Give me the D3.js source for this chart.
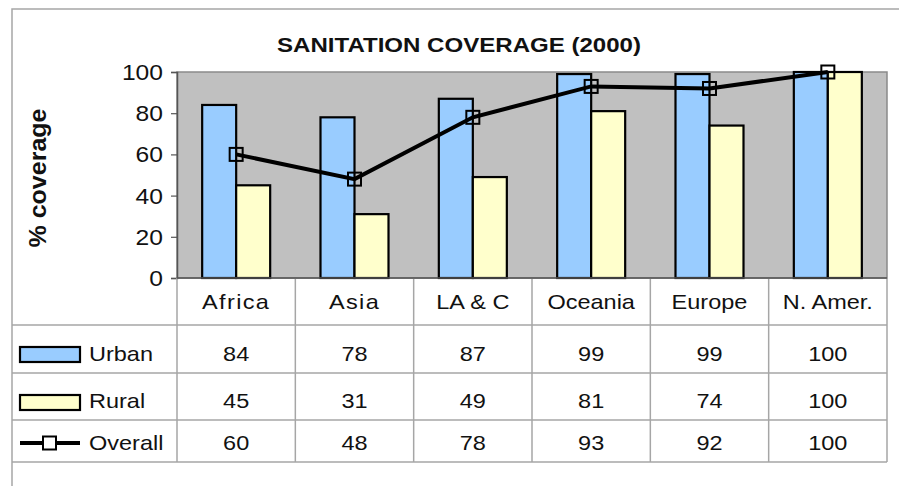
<!DOCTYPE html>
<html>
<head>
<meta charset="utf-8">
<script src="https://cdn.jsdelivr.net/npm/d3@7"></script>
<style>
  html, body { margin: 0; padding: 0; background: #fff; }
  svg { display: block; }
  text { font-family: "Liberation Sans", Arial, sans-serif; fill: #111; }
</style>
</head>
<body>
<div id="chart"></div>
<script>
// values
var categories = ["Africa", "Asia", "LA & C", "Oceania", "Europe", "N. Amer."];
var seriesNames = ["Urban", "Rural", "Overall"];
var urban = [84, 78, 87, 99, 99, 100];
var rural = [45, 31, 49, 81, 74, 100];
var overall = [60, 48, 78, 93, 92, 100];
var yTicks = [0, 20, 40, 60, 80, 100];

var W = 899, H = 486;
var plot = { left: 177, right: 887, top: 72, bottom: 278 };
var rowBottoms = [325, 373, 420, 462];
var frameX = 12, frameY = 9;
var sx = 1.12; // text in the picture is a bit wider than Arial

var colors = { urban: "#99ccff", rural: "#ffffcc", bg: "#c0c0c0", grid: "#a6a6a6" };

var svg = d3.select("#chart").append("svg")
    .attr("width", W)
    .attr("height", H);

function label(x, y, s, anchor, size, weight) {
    return svg.append("text")
        .attr("transform", "translate(" + x + "," + y + ") scale(" + sx + ",1)")
        .attr("text-anchor", anchor || "middle")
        .attr("font-size", size || 21)
        .attr("font-weight", weight || "normal")
        .text(s);
}

var x = d3.scaleBand()
    .domain(categories)
    .range([plot.left, plot.right]);

var xInner = d3.scaleBand()
    .domain(["Urban", "Rural"])
    .range([0, x.bandwidth()])
    .paddingOuter(0.74);

var y = d3.scaleLinear()
    .domain([0, 100])
    .range([plot.bottom, plot.top]);

// outer frame
svg.append("path")
    .attr("d", "M" + frameX + "," + H + "V" + frameY + "H" + W)
    .attr("fill", "none")
    .attr("stroke", colors.grid)
    .attr("stroke-width", 1.5);

// title
svg.append("text")
    .attr("x", 459)
    .attr("y", 52)
    .attr("text-anchor", "middle")
    .attr("font-size", 21)
    .attr("font-weight", "bold")
    .attr("textLength", 364)
    .attr("lengthAdjust", "spacingAndGlyphs")
    .text("SANITATION COVERAGE (2000)");

// y axis title
svg.append("text")
    .attr("transform", "translate(46,178) rotate(-90)")
    .attr("text-anchor", "middle")
    .attr("font-size", 23)
    .attr("font-weight", "bold")
    .attr("textLength", 139)
    .attr("lengthAdjust", "spacingAndGlyphs")
    .text("% coverage");

// plot area
svg.append("rect")
    .attr("x", plot.left)
    .attr("y", plot.top)
    .attr("width", plot.right - plot.left)
    .attr("height", plot.bottom - plot.top)
    .attr("fill", colors.bg)
    .attr("stroke", "#8a8a8a")
    .attr("stroke-width", 1.5);

// y axis
var yAxis = svg.append("g")
    .attr("transform", "translate(" + plot.left + ",0)")
    .call(d3.axisLeft(y).tickValues(yTicks).tickSize(6).tickFormat(""));
yAxis.select(".domain").attr("stroke", "#555").attr("stroke-width", 1.5);
yAxis.selectAll(".tick line").attr("stroke", "#555").attr("stroke-width", 1.2);

yTicks.forEach(function(t) {
    label(163, y(t) + 8, String(t), "end", 22);
});

// bars
var groups = svg.selectAll(".cat")
    .data(categories)
    .enter()
    .append("g")
    .attr("class", "cat")
    .attr("transform", function(d) { return "translate(" + x(d) + ",0)"; });

groups.append("rect")
    .attr("x", xInner("Urban"))
    .attr("y", function(d, i) { return y(urban[i]); })
    .attr("width", xInner.bandwidth())
    .attr("height", function(d, i) { return y(0) - y(urban[i]); })
    .attr("fill", colors.urban)
    .attr("stroke", "#000")
    .attr("stroke-width", 2.2);

groups.append("rect")
    .attr("x", xInner("Rural"))
    .attr("y", function(d, i) { return y(rural[i]); })
    .attr("width", xInner.bandwidth())
    .attr("height", function(d, i) { return y(0) - y(rural[i]); })
    .attr("fill", colors.rural)
    .attr("stroke", "#000")
    .attr("stroke-width", 2.2);

// overall line
var cx = function(d, i) { return x(categories[i]) + x.bandwidth() / 2; };
svg.append("path")
    .datum(overall)
    .attr("d", d3.line().x(cx).y(function(d) { return y(d); }))
    .attr("fill", "none")
    .attr("stroke", "#000")
    .attr("stroke-width", 4);

svg.selectAll(".marker")
    .data(overall)
    .enter()
    .append("rect")
    .attr("class", "marker")
    .attr("x", function(d, i) { return cx(d, i) - 6.5; })
    .attr("y", function(d) { return y(d) - 6.5; })
    .attr("width", 13)
    .attr("height", 13)
    .attr("fill", "none")
    .attr("stroke", "#000")
    .attr("stroke-width", 2);

// data table
var tableLines = svg.append("g")
    .attr("stroke", colors.grid)
    .attr("stroke-width", 1.5);

x.domain().forEach(function(c) {
    tableLines.append("line")
        .attr("x1", x(c)).attr("x2", x(c))
        .attr("y1", plot.bottom).attr("y2", rowBottoms[3]);
});
tableLines.append("line")
    .attr("x1", plot.right).attr("x2", plot.right)
    .attr("y1", plot.bottom).attr("y2", rowBottoms[3]);
rowBottoms.forEach(function(rb) {
    tableLines.append("line")
        .attr("x1", frameX).attr("x2", plot.right)
        .attr("y1", rb).attr("y2", rb);
});
// axis line on top of table header
svg.append("line")
    .attr("x1", plot.left).attr("x2", plot.right)
    .attr("y1", plot.bottom).attr("y2", plot.bottom)
    .attr("stroke", "#555")
    .attr("stroke-width", 1.5);

categories.forEach(function(c, i) {
    label(x(c) + x.bandwidth() / 2, rowBottoms[0] - 16, c, "middle", 21)
        .attr("letter-spacing", i < 2 ? 1.2 : 0);
});

var rows = [urban, rural, overall];
rows.forEach(function(vals, r) {
    var base = rowBottoms[r + 1] - 12;
    vals.forEach(function(v, i) {
        label(x(categories[i]) + x.bandwidth() / 2, base, String(v), "middle", 21);
    });
    label(89, base, seriesNames[r], "start", 21);
});

// legend keys
[colors.urban, colors.rural].forEach(function(fill, r) {
    svg.append("rect")
        .attr("x", 20)
        .attr("y", rowBottoms[r] + 22)
        .attr("width", 60)
        .attr("height", 15)
        .attr("fill", fill)
        .attr("stroke", "#000")
        .attr("stroke-width", 2.2);
});
var ly = rowBottoms[2] + 23;
svg.append("line")
    .attr("x1", 20).attr("x2", 80)
    .attr("y1", ly).attr("y2", ly)
    .attr("stroke", "#000")
    .attr("stroke-width", 4);
svg.append("rect")
    .attr("x", 43).attr("y", ly - 6.5)
    .attr("width", 13).attr("height", 13)
    .attr("fill", "#fff")
    .attr("stroke", "#000")
    .attr("stroke-width", 2);
</script>
</body>
</html>
